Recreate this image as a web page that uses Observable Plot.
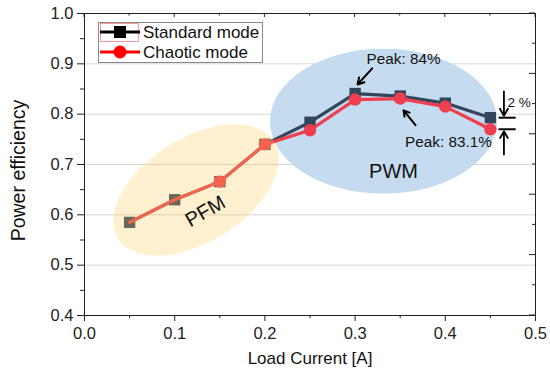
<!DOCTYPE html>
<html><head><meta charset="utf-8">
<script src="https://cdn.jsdelivr.net/npm/d3@7"></script>
<script src="https://cdn.jsdelivr.net/npm/@observablehq/plot@0.6"></script>
<style>
body{margin:0;background:#fff;}
#chart{width:550px;height:377px;}
</style>
</head><body><div id="chart"></div>
<script>
// ---- data ----
const current = [0.05, 0.10, 0.15, 0.20, 0.25, 0.30, 0.35, 0.40, 0.45];
const standardMode = [0.585, 0.630, 0.666, 0.740, 0.784, 0.841, 0.836, 0.822, 0.793];
const chaoticMode  = [0.585, 0.630, 0.666, 0.740, 0.768, 0.829, 0.831, 0.815, 0.770];
const seriesNames = ["Standard mode", "Chaotic mode"];
const xTicks = [0.0, 0.1, 0.2, 0.3, 0.4, 0.5];
const xMinor = [0.05, 0.15, 0.25, 0.35, 0.45];
const yTicks = [0.4, 0.5, 0.6, 0.7, 0.8, 0.9, 1.0];
const yMinor = [0.45, 0.55, 0.65, 0.75, 0.85, 0.95];
const gridY = [0.5, 0.6, 0.7, 0.8, 0.9];
const rightMajor = [0.40, 0.52, 0.64, 0.76, 0.88, 1.00];
const rightMinor = [0.46, 0.58, 0.70, 0.82, 0.94];

const FONT = "'Liberation Sans', Arial, sans-serif";
const colStd = "#33475a";
const colCha = "#f03e4e";

const stdRows = current.map((x, i) => ({x, y: standardMode[i], s: seriesNames[0]}));
const chaRows = current.map((x, i) => ({x, y: chaoticMode[i], s: seriesNames[1]}));

// ellipse render helper (center in data units, radii in px)
function ellipseMark(cx, cy, rx, ry, rot, fill, opacity) {
  return (index, scales) => {
    const g = d3.create("svg:g");
    g.append("ellipse")
      .attr("cx", 0).attr("cy", 0).attr("rx", rx).attr("ry", ry)
      .attr("transform", `translate(${scales.x(cx)},${scales.y(cy)}) rotate(${rot})`)
      .attr("fill", fill).attr("fill-opacity", opacity);
    return g.node();
  };
}

// inward ticks on top and right frame edges
function mirrorTicks(index, scales, values, dim) {
  const g = d3.create("svg:g").attr("stroke", "#222").attr("stroke-width", 1);
  const top = dim.marginTop, right = dim.width - dim.marginRight;
  for (const v of xTicks) { const x = scales.x(v); g.append("line").attr("x1", x).attr("x2", x).attr("y1", top).attr("y2", top + 4); }
  for (const v of xMinor) { const x = scales.x(v); g.append("line").attr("x1", x).attr("x2", x).attr("y1", top).attr("y2", top + 2.5); }
  for (const v of rightMajor) { const y = scales.y(v); g.append("line").attr("x1", right).attr("x2", right - 6).attr("y1", y).attr("y2", y); }
  for (const v of rightMinor) { const y = scales.y(v); g.append("line").attr("x1", right).attr("x2", right - 3).attr("y1", y).attr("y2", y); }
  return g.node();
}

function legend() {
  const g = d3.create("svg:g").attr("font-family", FONT);
  g.append("rect").attr("x", 98.5).attr("y", 22.5).attr("width", 164).attr("height", 40)
    .attr("fill", "#fff").attr("stroke", "#8a8a8a").attr("stroke-width", 1);
  g.append("rect").attr("x", 100.5).attr("y", 23.5).attr("width", 38).attr("height", 18)
    .attr("fill", "none").attr("stroke", "#f08080").attr("stroke-width", 0.8);
  g.append("line").attr("x1", 100).attr("x2", 140).attr("y1", 32).attr("y2", 32).attr("stroke", "#000").attr("stroke-width", 3);
  g.append("rect").attr("x", 114).attr("y", 26).attr("width", 12).attr("height", 12).attr("fill", "#000");
  g.append("line").attr("x1", 100).attr("x2", 140).attr("y1", 52).attr("y2", 52).attr("stroke", "#ff0000").attr("stroke-width", 3);
  g.append("circle").attr("cx", 120).attr("cy", 52).attr("r", 6.5).attr("fill", "#ff0000");
  for (const [i, name] of seriesNames.entries()) {
    g.append("text").attr("x", 143).attr("y", 32 + 20 * i).attr("dy", "0.35em")
      .attr("text-anchor", "start").attr("font-size", 17).attr("fill", "#111").text(name);
  }
  return g.node();
}

const fmt = d3.format(".1f");

const chart = Plot.plot({
  width: 550, height: 377,
  marginLeft: 84, marginRight: 15, marginTop: 13, marginBottom: 62,
  style: {fontFamily: FONT, fontSize: "16px", color: "#222", background: "#fff"},
  x: {domain: [0, 0.5]},
  y: {domain: [0.4, 1.0]},
  marks: [
    Plot.gridY(gridY, {stroke: "#d6d6d6", strokeOpacity: 1}),
    ellipseMark(0.332, 0.785, 113.5, 72.5, 0, "#c5dcf0", 1),
    Plot.line(stdRows, {x: "x", y: "y", stroke: colStd, strokeWidth: 3.2}),
    Plot.dot(stdRows, {x: "x", y: "y", symbol: "square", r: 6.4, fill: colStd}),
    Plot.line(chaRows, {x: "x", y: "y", stroke: colCha, strokeWidth: 3.2}),
    Plot.dot(chaRows.filter(d => d.x > 0.12), {x: "x", y: "y", symbol: "circle", r: 6.2, fill: colCha}),
    ellipseMark(0.1242, 0.6485, 92, 52, -32, "#ffc850", 0.27),
    Plot.text(["PFM"], {x: 0.134, y: 0.607, rotate: -30, fontSize: 20, fill: "#111"}),
    Plot.text(["PWM"], {x: 0.3426, y: 0.686, fontSize: 20, fill: "#111"}),
    Plot.text(["Peak: 84%"], {x: 0.3537, y: 0.909, fontSize: 15.3, fill: "#111"}),
    Plot.arrow([0], {x1: 0.319, y1: 0.891, x2: 0.3027, y2: 0.859, stroke: "#000", strokeWidth: 2, headLength: 8}),
    Plot.text(["Peak: 83.1%"], {x: 0.4035, y: 0.744, fontSize: 15.3, fill: "#111"}),
    Plot.arrow([0], {x1: 0.367, y1: 0.778, x2: 0.3537, y2: 0.8076, stroke: "#000", strokeWidth: 2, headLength: 8}),
    Plot.link([0], {x1: 0.459, x2: 0.478, y1: standardMode[8], y2: standardMode[8], stroke: "#000", strokeWidth: 2}),
    Plot.link([0], {x1: 0.459, x2: 0.478, y1: chaoticMode[8], y2: chaoticMode[8], stroke: "#000", strokeWidth: 2}),
    Plot.arrow([0], {x1: 0.465, y1: 0.845, x2: 0.465, y2: standardMode[8] + 0.004, stroke: "#000", strokeWidth: 1.8, headLength: 7}),
    Plot.arrow([0], {x1: 0.465, y1: 0.720, x2: 0.465, y2: chaoticMode[8] - 0.004, stroke: "#000", strokeWidth: 1.8, headLength: 7}),
    Plot.text(["2 %"], {x: 0.469, y: 0.823, textAnchor: "start", fontSize: 13.5, fill: "#111"}),
    Plot.frame({stroke: "#222", strokeWidth: 1}),
    mirrorTicks,
    Plot.axisY({ticks: yTicks, tickSize: 7, tickPadding: 4, tickFormat: fmt, label: null, fontSize: 16.5, stroke: "#222"}),
    Plot.axisY({ticks: yMinor, tickSize: 4, tickFormat: () => "", label: null, stroke: "#222"}),
    Plot.axisX({ticks: xTicks, tickSize: 6, tickPadding: 6, tickFormat: fmt, label: null, fontSize: 16.5, stroke: "#222"}),
    Plot.axisX({ticks: xMinor, tickSize: 3, tickFormat: () => "", label: null, stroke: "#222"}),
    Plot.text(["Load Current [A]"], {frameAnchor: "bottom", dy: 48, fontSize: 17, fill: "#111"}),
    Plot.text(["Power efficiency"], {frameAnchor: "left", textAnchor: "middle", rotate: -90, dx: -66, dy: 6, fontSize: 19.5, fill: "#111"}),
    legend
  ]
});
document.getElementById("chart").append(chart);
</script>
</body></html>
